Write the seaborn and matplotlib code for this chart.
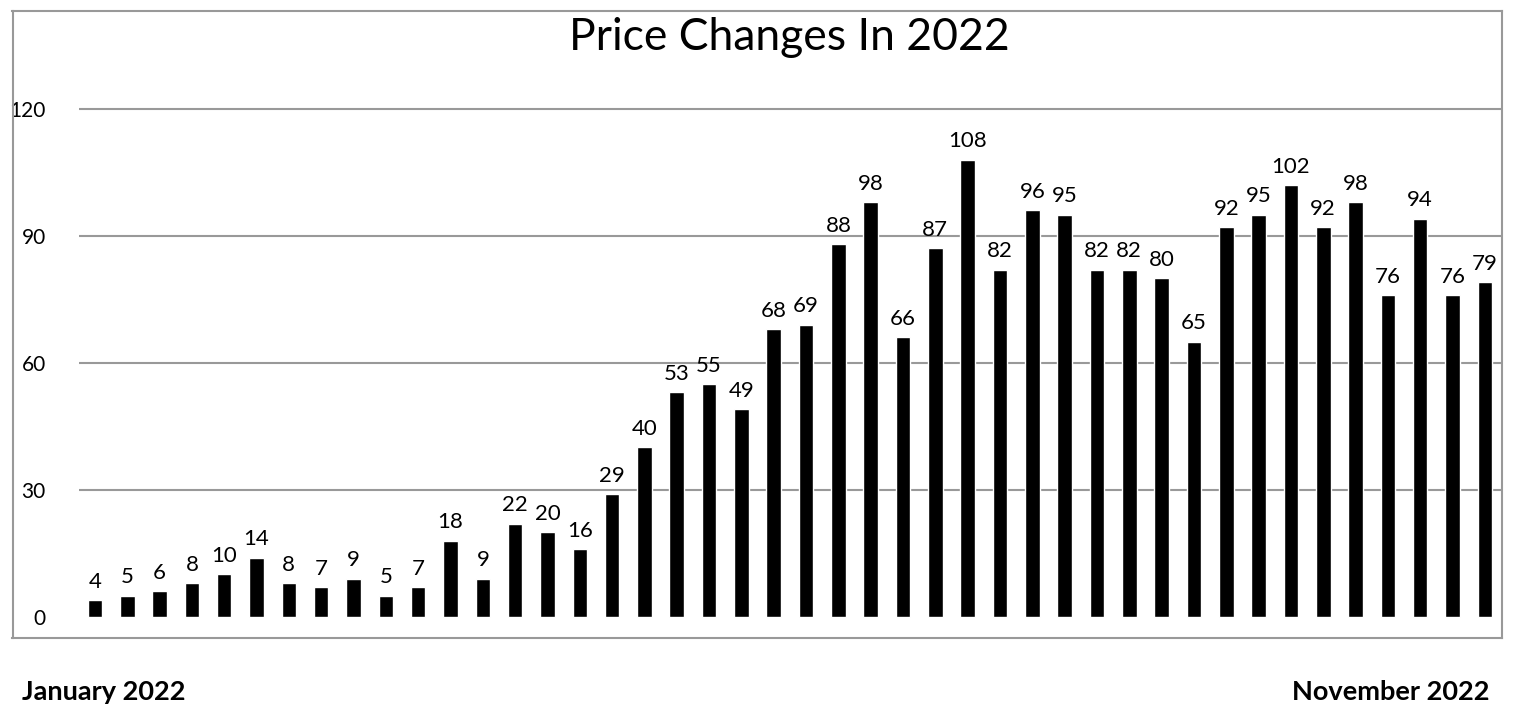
# Price changes in 2022, bar chart with value labels
import numpy as np
import pandas as pd
import seaborn as sns
import matplotlib.pyplot as plt

# Data
values = [4, 5, 6, 8, 10, 14, 8, 7, 9, 5, 7, 18, 9, 22, 20, 16, 29, 40,
          53, 55, 49, 68, 69, 88, 98, 66, 87, 108, 82, 96, 95, 82, 82, 80,
          65, 92, 95, 102, 92, 98, 76, 94, 76, 79]
y_ticks = [0, 30, 60, 90, 120]
title = 'Price Changes In 2022'
start_label = 'January 2022'
end_label = 'November 2022'

df = pd.DataFrame({'Period': np.arange(len(values)), 'Change': values})

# Style
sns.set_style('white')
plt.rcParams['font.family'] = ['Lato', 'DejaVu Sans']
plt.rcParams['text.color'] = 'black'
plt.rcParams['ytick.color'] = 'black'

W, H = 1516, 720
fig = plt.figure(figsize=(W / 100, H / 100), dpi=100)
ax = fig.add_axes([12.5 / W, 1 - 638 / H, (1502 - 12.5) / W, (638 - 10.5) / H])

sns.barplot(x='Period', y='Change', data=df, color='black', width=0.45,
            saturation=1, ax=ax, zorder=2)

ax.set_xlim(-2.55, len(values) - 1 + 0.53)
ax.set_ylim(-5, 143.2)

# Gridlines start just left of first bar
ax.hlines(y_ticks[1:], xmin=-0.5, xmax=ax.get_xlim()[1], color='#999999',
          lw=1.5, zorder=0)

# Value labels
for i, v in enumerate(values):
    ax.annotate(str(v), (i, v), xytext=(0, 6), textcoords='offset points',
                ha='center', va='bottom', fontsize=16, color='black')

ax.set_yticks(y_ticks)
ax.set_yticklabels([str(t) for t in y_ticks], fontsize=15, color='black')
ax.tick_params(axis='y', length=0, pad=-24)
for lbl in ax.get_yticklabels():
    lbl.set_horizontalalignment('right')
ax.set_xticks([])
ax.set_xlabel('')
ax.set_ylabel('')

for s in ax.spines.values():
    s.set_visible(True)
    s.set_color('#999999')
    s.set_linewidth(1.5)

fig.text(789 / W, 1 - 38 / H, title, ha='center', va='center', fontsize=32,
         color='black')
fig.text(22 / W, 1 - 692 / H, start_label, ha='left', va='center',
         fontsize=19.5, fontweight='bold', color='black')
fig.text(1490 / W, 1 - 692 / H, end_label, ha='right', va='center',
         fontsize=19.5, fontweight='bold', color='black')

fig.savefig('out.png', dpi=100)
